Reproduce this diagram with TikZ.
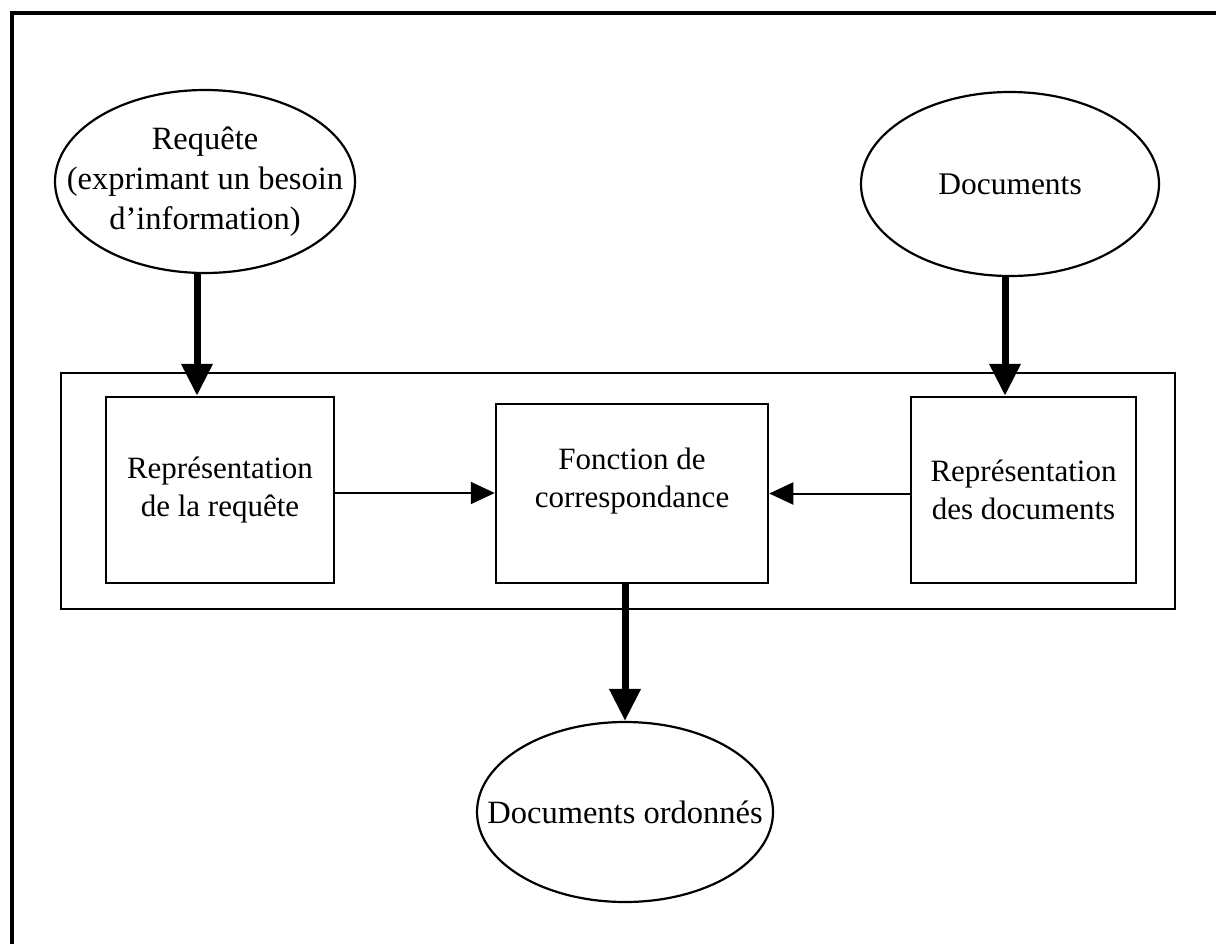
\documentclass[tikz,border=0pt]{standalone}
\usepackage{fontspec}
\setmainfont{Liberation Serif}
\usetikzlibrary{shapes.geometric,arrows.meta}
\begin{document}
\begin{tikzpicture}[x=1pt,y=-1pt,
  txt/.style={font=\fontsize{31}{38}\selectfont, align=center},
  ovaltxt/.style={font=\fontsize{32.5}{40}\selectfont, align=center, inner sep=0pt},
  oval/.style={draw, ellipse, line width=2.2pt, inner sep=0pt},
  procbox/.style={draw, rectangle, line width=2.5pt, inner sep=0pt, txt},
  bigarrow/.style={line width=7pt, -{Triangle[length=32pt,width=30pt]}},
  smallarrow/.style={line width=2pt, -{Triangle[length=24pt,width=22pt]}}]
\useasboundingbox (0,0) rectangle (1216,943);
\fill[white] (0,0) rectangle (1216,943);
% page frame (only left and top edges in view)
\draw[line width=4pt] (12,960) -- (12,13) -- (1230,13);

% input ellipses
\node[oval, minimum width=300pt, minimum height=183pt] (req) at (205,181.5) {};
\node[ovaltxt] (reqtxt) at (req.center)
  {Requête\\(exprimant un besoin\\d’information)};
\node[oval, minimum width=298pt, minimum height=184pt] (docs) at (1010,184) {};
\node[ovaltxt, font=\fontsize{31.5}{40}\selectfont] (docstxt) at (docs.center) {Documents};

% system frame
\node[draw, line width=2.5pt, minimum width=1114pt, minimum height=236pt, inner sep=0pt]
  (sys) at (618,491) {};

% processing boxes
\node[procbox, minimum width=228pt, minimum height=186pt] (rq) at (220,490)
  {Représentation\\de la requête};
\node[procbox, minimum width=272pt, minimum height=179pt] (fc) at (632,493.5) {};
\node[txt, inner sep=0pt] (fctxt) at ([yshift=12pt]fc.center)
  {Fonction de\\correspondance};
\node[procbox, minimum width=225pt, minimum height=186pt] (rd) at (1023.5,490)
  {Représentation\\des documents};

% output ellipse
\node[oval, minimum width=296pt, minimum height=180pt] (out) at (625,812) {};
\node[ovaltxt] (outtxt) at (out.center) {Documents ordonnés};

% connectors
\draw[bigarrow] ([xshift=-8pt]req.south) -- ([xshift=-8pt]req.south |- rq.north);
\draw[bigarrow] ([xshift=-5pt]docs.south) -- ([xshift=-5pt]docs.south |- rd.north);
\draw[smallarrow] ([yshift=-3pt]rq.east) -- ([yshift=-3pt]rq.east -| fc.west);
\draw[smallarrow] (rd.west |- fc.east) -- (fc.east);
\draw[bigarrow] ([xshift=-7pt]fc.south) -- ([xshift=-7pt]fc.south |- out.north);
\end{tikzpicture}
\end{document}
